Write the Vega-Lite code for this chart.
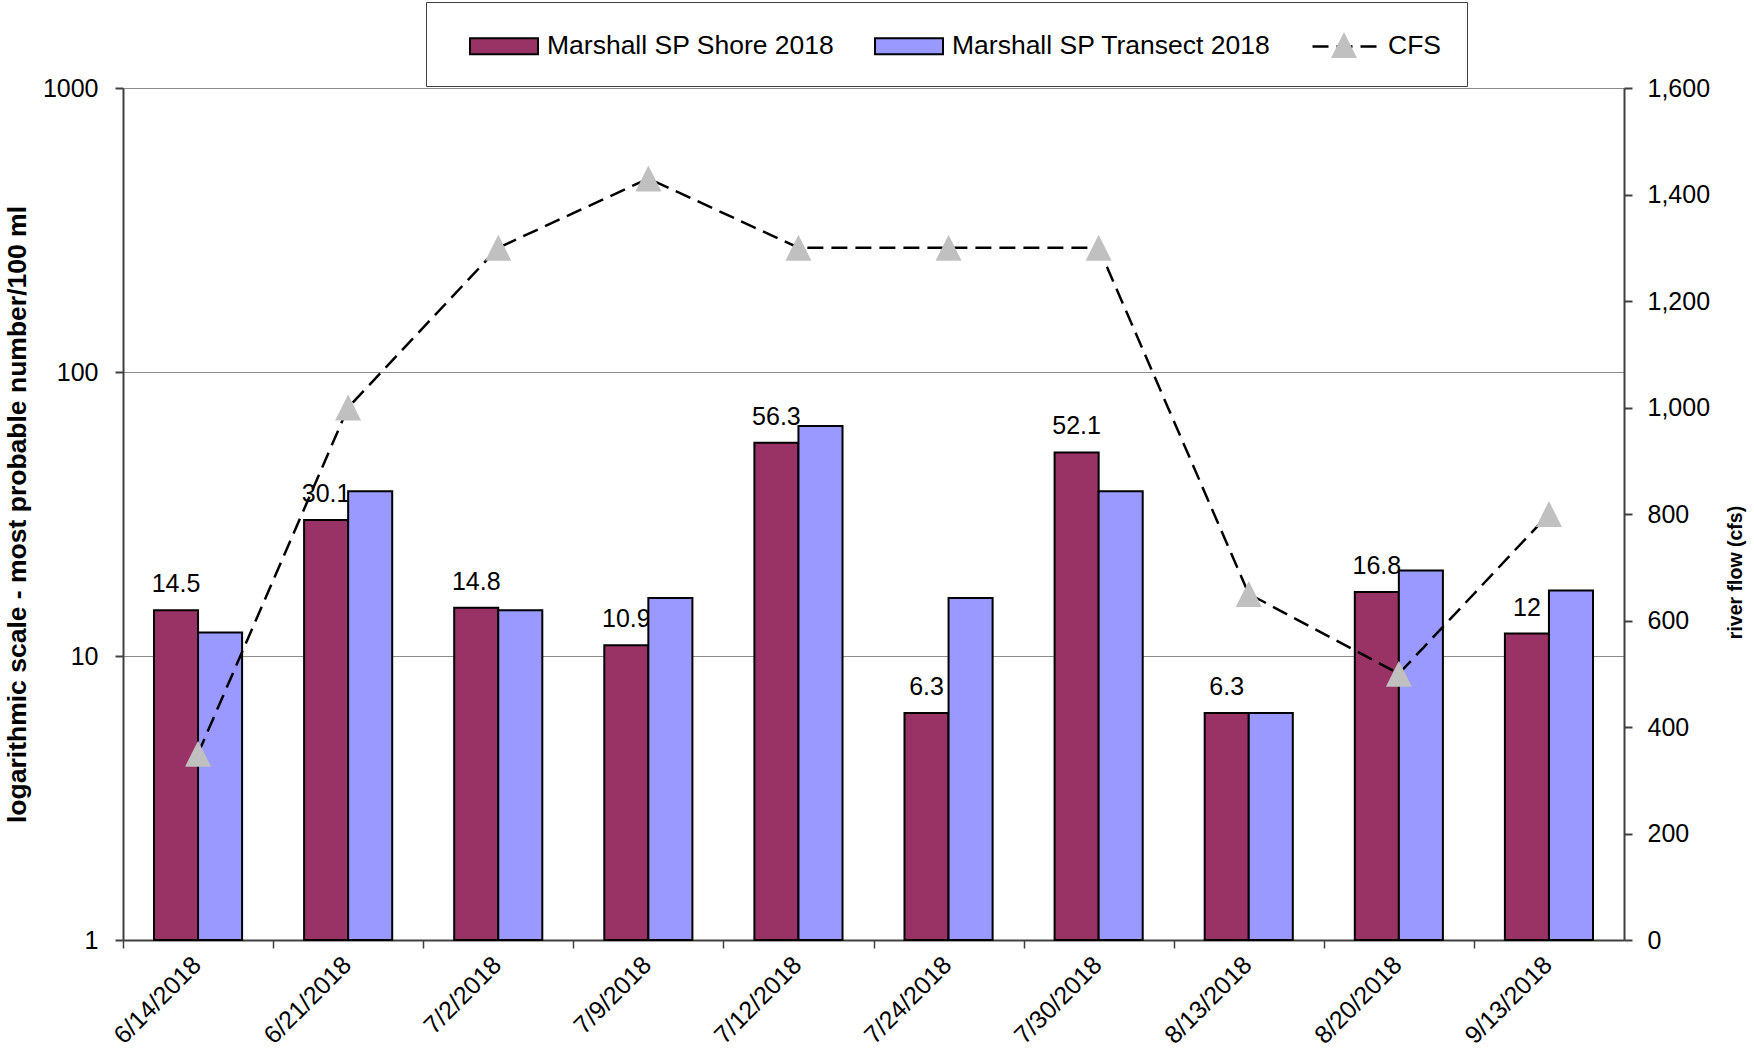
{
  "$schema": "https://vega.github.io/schema/vega-lite/v6.json",
  "width": 1501,
  "height": 852,
  "autosize": {"type": "none"},
  "padding": {"left": 123, "top": 88, "right": 130, "bottom": 121},
  "background": "white",
  "config": {
    "view": {"stroke": null},
    "axis": {"labelFont": "Liberation Sans", "titleFont": "Liberation Sans", "labelColor": "black", "titleColor": "black"},
    "legend": {"labelFont": "Liberation Sans", "titleFont": "Liberation Sans", "labelColor": "black"},
    "text": {"font": "Liberation Sans"}
  },
  "datasets": {
    "bars": [
      {"date": "6/14/2018", "series": "Marshall SP Shore 2018", "value": 14.5},
      {"date": "6/14/2018", "series": "Marshall SP Transect 2018", "value": 12.1},
      {"date": "6/21/2018", "series": "Marshall SP Shore 2018", "value": 30.1},
      {"date": "6/21/2018", "series": "Marshall SP Transect 2018", "value": 38},
      {"date": "7/2/2018", "series": "Marshall SP Shore 2018", "value": 14.8},
      {"date": "7/2/2018", "series": "Marshall SP Transect 2018", "value": 14.5},
      {"date": "7/9/2018", "series": "Marshall SP Shore 2018", "value": 10.9},
      {"date": "7/9/2018", "series": "Marshall SP Transect 2018", "value": 16},
      {"date": "7/12/2018", "series": "Marshall SP Shore 2018", "value": 56.3},
      {"date": "7/12/2018", "series": "Marshall SP Transect 2018", "value": 64.5},
      {"date": "7/24/2018", "series": "Marshall SP Shore 2018", "value": 6.3},
      {"date": "7/24/2018", "series": "Marshall SP Transect 2018", "value": 16},
      {"date": "7/30/2018", "series": "Marshall SP Shore 2018", "value": 52.1},
      {"date": "7/30/2018", "series": "Marshall SP Transect 2018", "value": 38},
      {"date": "8/13/2018", "series": "Marshall SP Shore 2018", "value": 6.3},
      {"date": "8/13/2018", "series": "Marshall SP Transect 2018", "value": 6.3},
      {"date": "8/20/2018", "series": "Marshall SP Shore 2018", "value": 16.8},
      {"date": "8/20/2018", "series": "Marshall SP Transect 2018", "value": 20},
      {"date": "9/13/2018", "series": "Marshall SP Shore 2018", "value": 12},
      {"date": "9/13/2018", "series": "Marshall SP Transect 2018", "value": 17}
    ],
    "flow": [
      {"date": "6/14/2018", "series": "CFS", "cfs": 350},
      {"date": "6/21/2018", "series": "CFS", "cfs": 1000},
      {"date": "7/2/2018", "series": "CFS", "cfs": 1300},
      {"date": "7/9/2018", "series": "CFS", "cfs": 1430},
      {"date": "7/12/2018", "series": "CFS", "cfs": 1300},
      {"date": "7/24/2018", "series": "CFS", "cfs": 1300},
      {"date": "7/30/2018", "series": "CFS", "cfs": 1300},
      {"date": "8/13/2018", "series": "CFS", "cfs": 650},
      {"date": "8/20/2018", "series": "CFS", "cfs": 500},
      {"date": "9/13/2018", "series": "CFS", "cfs": 800}
    ]
  },
  "layer": [
    {
      "data": {"name": "bars"},
      "encoding": {
        "x": {
          "field": "date", "type": "nominal", "sort": null,
          "scale": {"paddingInner": 0.413, "paddingOuter": 0.2065},
          "axis": {
            "title": null, "labelAngle": -45, "tickOffset": -75.05, "labelOffset": 65,
            "domainColor": "#404040", "domainWidth": 2, "tickColor": "#404040", "tickWidth": 1.5,
            "tickSize": 8, "labelFontSize": 25, "labelPadding": 4, "labelLimit": 400, "grid": false
          }
        },
        "xOffset": {"field": "series", "type": "nominal", "sort": null, "scale": {"paddingInner": 0, "paddingOuter": 0}},
        "y": {
          "field": "value", "type": "quantitative",
          "scale": {"type": "log", "domain": [1, 1000], "nice": false},
          "axis": {
            "orient": "left", "values": [1, 10, 100, 1000], "format": "d",
            "grid": true, "gridColor": "#8c8c8c", "gridWidth": 1,
            "domainColor": "#404040", "domainWidth": 2, "tickColor": "#404040", "tickWidth": 2, "tickSize": 8,
            "labelFontSize": 25, "labelPadding": 17,
            "title": "logarithmic scale - most probable number/100 ml",
            "titleFontSize": 26.5, "titleFontWeight": "bold", "titlePadding": 11
          }
        }
      },
      "layer": [
        {
          "transform": [{"filter": "datum.series === 'Marshall SP Shore 2018'"}],
          "mark": {"type": "text", "baseline": "alphabetic", "dy": -18, "fontSize": 25, "color": "black"},
          "encoding": {"text": {"field": "value", "type": "quantitative", "format": "~g"}}
        },
        {
          "mark": {"type": "bar", "strokeWidth": 2, "opacity": 1},
          "encoding": {
            "y2": {"datum": 1},
            "fill": {
              "field": "series", "type": "nominal", "sort": null,
              "scale": {"domain": ["Marshall SP Shore 2018", "Marshall SP Transect 2018", "CFS"], "range": ["#993366", "#9999FF", "transparent"]},
              "legend": {
                "title": null,
                "orient": "none", "legendX": 303, "legendY": -86, "direction": "horizontal",
                "symbolType": "M-2,-0.47H2V0.47H-2Z", "symbolSize": 1156,
                "symbolStrokeWidth": 2, "symbolOpacity": 1,
                "symbolOffset": 34, "labelOffset": 25, "columnPadding": 22, "padding": 26,
                "strokeColor": "#404040", "fillColor": "white",
                "labelFontSize": 26.5, "labelLimit": 1000
              }
            },
            "stroke": {
              "field": "series", "type": "nominal", "sort": null,
              "scale": {"domain": ["Marshall SP Shore 2018", "Marshall SP Transect 2018", "CFS"], "range": ["black", "black", "transparent"]},
              "legend": {
                "title": null,
                "orient": "none", "legendX": 303, "legendY": -86, "direction": "horizontal",
                "symbolType": "M-2,-0.47H2V0.47H-2Z", "symbolSize": 1156,
                "symbolStrokeWidth": 2, "symbolOpacity": 1,
                "symbolOffset": 34, "labelOffset": 25, "columnPadding": 22, "padding": 26,
                "strokeColor": "#404040", "fillColor": "white",
                "labelFontSize": 26.5, "labelLimit": 1000
              }
            }
          }
        }
      ]
    },
    {
      "data": {"name": "flow"},
      "encoding": {
        "x": {"field": "date", "type": "nominal", "sort": null},
        "y": {
          "field": "cfs", "type": "quantitative",
          "scale": {"domain": [0, 1600], "nice": false},
          "axis": {
            "orient": "right", "values": [0, 200, 400, 600, 800, 1000, 1200, 1400, 1600], "format": ",.0f",
            "grid": false, "domainColor": "#404040", "domainWidth": 2, "tickColor": "#404040", "tickWidth": 2, "tickSize": 8,
            "labelFontSize": 25, "labelPadding": 15,
            "title": "river flow (cfs)", "titleAngle": 270, "titleBaseline": "top",
            "titleFontSize": 19.5, "titleFontWeight": "bold", "titleX": 102, "titleY": 484
          }
        }
      },
      "layer": [
        {
          "mark": {"type": "line", "color": "black", "strokeWidth": 2.5},
          "encoding": {
            "strokeDash": {
              "field": "series", "type": "nominal",
              "scale": {"domain": ["CFS"], "range": [[16, 8]]},
              "legend": {
                "title": null, "orient": "none", "legendX": 1188, "legendY": -75.5,
                "symbolType": "stroke", "symbolSize": 4225, "symbolStrokeColor": "black", "symbolStrokeWidth": 2.5,
                "labelExpr": "''", "labelFontSize": 1, "padding": 0
              }
            }
          }
        },
        {
          "mark": {"type": "point", "filled": true, "fill": "#C0C0C0", "strokeWidth": 0, "size": 676, "opacity": 1},
          "encoding": {
            "shape": {
              "datum": "marker",
              "scale": {"range": ["M0,-1L1,1L-1,1Z"]},
              "legend": {
                "title": null, "orient": "none", "legendX": 1208, "legendY": -56,
                "symbolSize": 676, "symbolFillColor": "#C0C0C0", "symbolStrokeWidth": 0, "symbolOpacity": 1,
                "labelExpr": "''", "labelFontSize": 1, "padding": 0
              }
            }
          }
        }
      ]
    }
  ],
  "resolve": {"scale": {"y": "independent"}}
}
